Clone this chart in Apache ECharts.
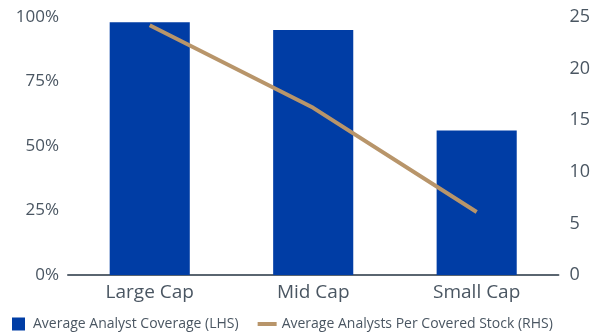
<!DOCTYPE html>
<html><head><meta charset="utf-8">
<script src="https://cdn.jsdelivr.net/npm/echarts@6/dist/echarts.min.js"></script>
<style>html,body{margin:0;padding:0;background:#fff}#c{width:593px;height:334px}</style>
</head><body><div id="c"></div>
<script>
const categories = ['Large Cap', 'Mid Cap', 'Small Cap'];
const coverage = [98, 95, 56];
const analystsPerStock = [24.2, 16.2, 6.1];
const leftTicks = ['0%', '25%', '50%', '75%', '100%'];

const chart = echarts.init(document.getElementById('c'));
const txt = '#4a5662';
const font = "'Open Sans', 'Noto Sans', sans-serif";
chart.setOption({
  animation: false,
  textStyle: { fontFamily: font },
  grid: { left: 68, right: 32, top: 17, bottom: 59 },
  legend: {
    top: 312, left: 7, width: 586, itemGap: 19, itemWidth: 19, itemHeight: 13,
    textStyle: { color: txt, fontSize: 14, fontFamily: font },
    data: [
      { name: 'Average Analyst Coverage (LHS)', icon: 'path://M0,0H13V13H0Z' },
      { name: 'Average Analysts Per Covered Stock (RHS)', icon: 'path://M0,0H19V4H0Z' }
    ]
  },
  xAxis: {
    type: 'category', data: categories,
    axisLine: { lineStyle: { color: '#5a6570', width: 2 } },
    axisTick: { show: false },
    axisLabel: { color: txt, fontSize: 19, margin: 8, fontFamily: font }
  },
  yAxis: [
    { type: 'value', min: 0, max: 100, interval: 25, position: 'left',
      splitLine: { show: false },
      axisLabel: { color: txt, fontSize: 17, margin: 9, fontFamily: font,
        formatter: v => leftTicks[v / 25] } },
    { type: 'value', min: 0, max: 25, interval: 5, position: 'right',
      splitLine: { show: false },
      axisLabel: { color: txt, fontSize: 18, margin: 11, fontFamily: font } }
  ],
  series: [
    { name: 'Average Analyst Coverage (LHS)', type: 'bar', data: coverage,
      barWidth: '49%', itemStyle: { color: '#003DA5' } },
    { name: 'Average Analysts Per Covered Stock (RHS)', type: 'line', yAxisIndex: 1,
      data: analystsPerStock, symbol: 'none',
      lineStyle: { color: '#B8956A', width: 4 }, itemStyle: { color: '#B8956A' } }
  ]
});
</script></body></html>
